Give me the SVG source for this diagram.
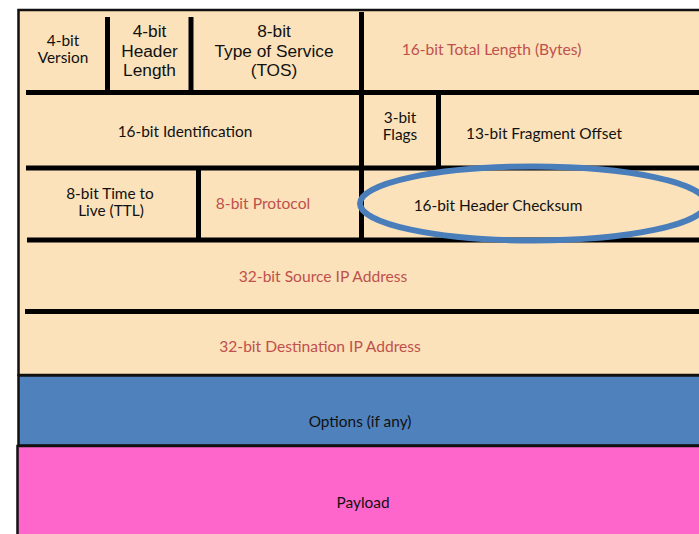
<svg xmlns="http://www.w3.org/2000/svg" width="699" height="534" viewBox="0 0 699 534">
<style>
  text { font-family: Lato, "Liberation Sans", sans-serif; text-anchor: middle; }
  .s { font-size: 15.4px; fill: #111; }
  .l { font-family: "Liberation Sans", Lato, sans-serif; font-size: 17.3px; fill: #111; }
  .r { font-size: 15.6px; fill: #C0504D; }
  .div { stroke: #000; stroke-width: 5; fill: none; }
  .bd { stroke: #111; stroke-width: 2.5; }
</style>
<rect width="699" height="534" fill="#fff"/>
<g id="header-bg">
  <rect x="18.5" y="10" width="690" height="365" fill="#FBE2BA" class="bd"/>
</g>
<g id="options">
  <rect x="18.5" y="375.5" width="690" height="70" fill="#4F81BD" class="bd"/>
  <text class="s" x="360" y="427">Options (if any)</text>
</g>
<g id="payload">
  <rect x="17.5" y="446" width="690" height="100" fill="#FF66CC" class="bd"/>
  <text class="s" x="363" y="508">Payload</text>
</g>
<g id="dividers">
  <line class="div" x1="107.5" y1="17" x2="107.5" y2="92"/>
  <line class="div" x1="191" y1="17" x2="191" y2="92"/>
  <line class="div" x1="361.5" y1="12" x2="361.5" y2="240"/>
  <line class="div" x1="26" y1="92.5" x2="699" y2="92.5"/>
  <line class="div" x1="438.5" y1="92" x2="438.5" y2="168"/>
  <line class="div" x1="26" y1="168" x2="699" y2="168"/>
  <line class="div" x1="198.5" y1="168" x2="198.5" y2="240"/>
  <line class="div" x1="27" y1="240" x2="699" y2="240"/>
  <line class="div" x1="25" y1="311.5" x2="699" y2="311.5"/>
</g>
<g id="version">
  <text class="s" x="63" y="46">4-bit</text>
  <text class="s" x="63" y="63">Version</text>
</g>
<g id="header-length">
  <text class="l" x="149.5" y="37">4-bit</text>
  <text class="l" x="149.5" y="56.5">Header</text>
  <text class="l" x="149.5" y="76">Length</text>
</g>
<g id="tos">
  <text class="l" x="274" y="37">8-bit</text>
  <text class="l" x="274" y="56.5">Type of Service</text>
  <text class="l" x="274" y="76">(TOS)</text>
</g>
<g id="total-length">
  <text class="r" x="491.5" y="55">16-bit Total Length (Bytes)</text>
</g>
<g id="identification">
  <text class="s" x="185" y="137">16-bit Identification</text>
</g>
<g id="flags">
  <text class="s" x="400" y="123">3-bit</text>
  <text class="s" x="400" y="140">Flags</text>
</g>
<g id="fragment-offset">
  <text class="s" x="544" y="139">13-bit Fragment Offset</text>
</g>
<g id="ttl">
  <text class="s" x="110" y="199">8-bit Time to</text>
  <text class="s" x="111" y="216">Live (TTL)</text>
</g>
<g id="protocol">
  <text class="r" x="263" y="209">8-bit Protocol</text>
</g>
<g id="checksum">
  <text class="s" x="498" y="211">16-bit Header Checksum</text>
  <ellipse cx="533" cy="203.5" rx="173" ry="37" fill="none" stroke="#4A7EBB" stroke-width="6"/>
</g>
<g id="source-ip">
  <text class="r" x="323" y="282">32-bit Source IP Address</text>
</g>
<g id="destination-ip">
  <text class="r" x="320" y="352">32-bit Destination IP Address</text>
</g>
</svg>
